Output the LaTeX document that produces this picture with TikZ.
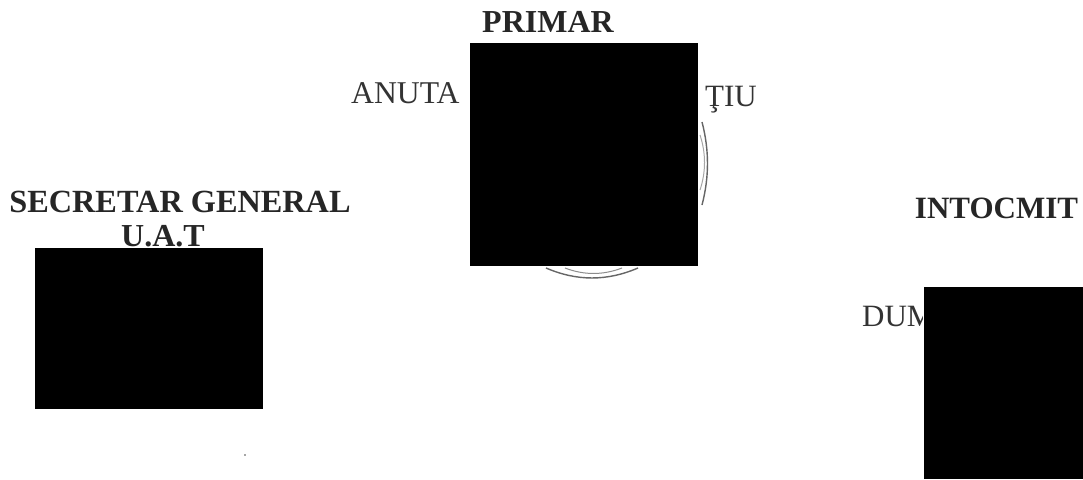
\documentclass[tikz,border=0pt]{standalone}
\usepackage{fontspec}
\setmainfont{Liberation Serif}
\begin{document}
\begin{tikzpicture}[x=1pt,y=-1pt,
  redact/.style={fill=black,draw=none},
  headtxt/.style={font=\fontsize{32}{32}\selectfont\bfseries,text=black!85,inner sep=0pt,anchor=base},
  persontxt/.style={font=\fontsize{31}{31}\selectfont,text=black!80,inner sep=0pt,anchor=base west},
  sealring/.style={draw=black!60,line width=1.4pt},
  sealfaint/.style={draw=black!35,line width=1pt}]
\useasboundingbox (0,0) rectangle (1083,479);
\fill[white] (0,0) rectangle (1083,479);
\draw[sealfaint] (700,135) .. controls (706,153) and (706,172) .. (700,190);
\draw[sealring] (702,122) .. controls (709.3,150) and (709.3,177) .. (702,205);
\draw[sealring] (546,268) .. controls (577,281.3) and (607,281.3) .. (638,268);
\draw[sealring,draw=black!45,line width=1pt] (565,268) .. controls (584,275.3) and (603,275.3) .. (622,268);
\node[headtxt] (primar) at (548,32) {PRIMAR};
\node[persontxt,font=\fontsize{31.7}{32}\selectfont] (anuta) at (351,103) {ANUTA};
\node[persontxt] (tiu) at (705,106) {ŢIU};
\node[headtxt,font=\fontsize{32.3}{32}\selectfont\bfseries] (secretar) at (180,212) {SECRETAR GENERAL};
\node[headtxt] (uat) at (163,246) {U.A.T};
\node[headtxt,font=\fontsize{31}{32}\selectfont\bfseries] (intocmit) at (996.5,218) {INTOCMIT};
\begin{scope}
\clip (850,290) rectangle (922,340);
\node[persontxt] (dum) at (862,326) {DUM};
\end{scope}
\fill[redact] (470,43) rectangle (698,266);
\fill[redact] (35,248) rectangle (263,409);
\fill[redact] (924,287) rectangle (1083,479);
\fill[black!70] (245,455) circle (0.9);
\end{tikzpicture}
\end{document}
